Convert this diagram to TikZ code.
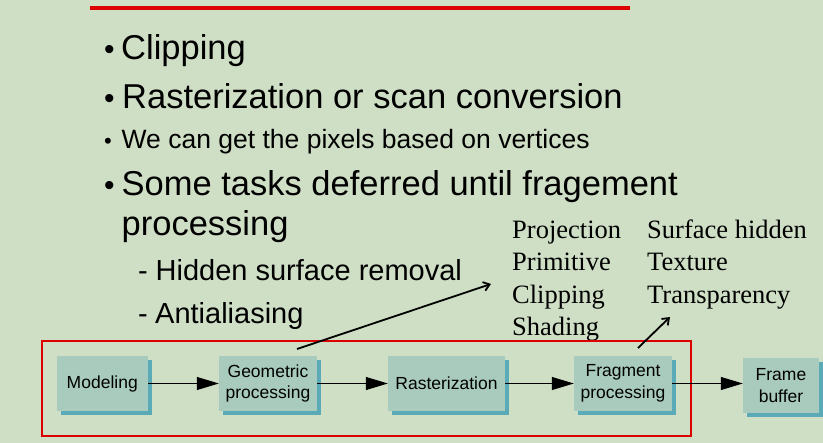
\documentclass[tikz,border=0pt]{standalone}
\usepackage{fontspec}
\setmainfont{Liberation Sans}
\newfontfamily\serifx{Liberation Serif}
\usetikzlibrary{arrows.meta}
\definecolor{bgc}{HTML}{CFDFC5}
\definecolor{boxc}{HTML}{A8CBBD}
\definecolor{shadc}{HTML}{5AAAB8}
\definecolor{redc}{HTML}{DD0000}
\tikzset{
  stagebox/.style={fill=boxc, draw=none, inner sep=0pt, align=center,
    font=\fontsize{17.5}{21.5}\selectfont},
  bigtxt/.style={anchor=base west, inner sep=0pt, font=\fontsize{34.5}{40}\selectfont},
  midtxt/.style={anchor=base west, inner sep=0pt, font=\fontsize{26.5}{30}\selectfont},
  subtxt/.style={anchor=base west, inner sep=0pt, font=\fontsize{29}{34}\selectfont},
  sertxt/.style={anchor=base west, inner sep=0pt, font=\serifx\fontsize{26.5}{30}\selectfont},
  flow/.style={-{Triangle[length=22pt,width=13pt]}, line width=1pt},
  pointer/.style={-{Straight Barb[length=6pt,width=9pt]}, line width=1.8pt},
}
\begin{document}
\begin{tikzpicture}[x=1pt,y=-1pt]
\fill[bgc] (0,0) rectangle (823,443);
\useasboundingbox (0,0) rectangle (823,443);
% top red line
\draw[redc, line width=4pt] (90,8) -- (630,8);
% left texts
\node[bigtxt] (t1) at (104,60) {\makebox[17pt][l]{\fontsize{30}{34}\selectfont•}Clipping};
\node[bigtxt] (t2) at (104,108.5) {\makebox[18pt][l]{\fontsize{30}{34}\selectfont•}Rasterization or scan conversion};
\node[midtxt] (t3) at (104,149) {\makebox[17.5pt][l]{\fontsize{22}{26}\selectfont•}We can get the pixels based on vertices};
\node[bigtxt] (t4) at (104,196) {\makebox[17.5pt][l]{\fontsize{30}{34}\selectfont•}Some tasks deferred until fragement};
\node[bigtxt] (t5) at (121.5,236) {processing};
\node[subtxt] (t6) at (138,281) {\makebox[17.5pt][l]{-}Hidden surface removal};
\node[subtxt] (t7) at (138,323.5) {\makebox[17pt][l]{-}Antialiasing};
% right serif texts
\node[sertxt] (r1) at (512,238.5) {Projection};
\node[sertxt] (r2) at (512,271) {Primitive};
\node[sertxt] (r3) at (512,303.5) {Clipping};
\node[sertxt] (r4) at (512,336) {Shading};
\node[sertxt] (s1) at (647,238.5) {Surface hidden};
\node[sertxt] (s2) at (647,271) {Texture};
\node[sertxt] (s3) at (647,303.5) {Transparency};
% shadows
\foreach \xa/\ya/\xb/\yb in {56.5/356/148/411, 219/356/317/411, 388/356/505/411, 574/356/672/411, 743/358/819/413}
  \fill[shadc] (\xa+4,\ya+4) rectangle (\xb+4,\yb+4);
% boxes
\node[stagebox, minimum width=91.5pt, minimum height=55pt] (mod) at (102.25,383.5) {Modeling};
\node[stagebox, minimum width=98pt, minimum height=55pt] (geo) at (268,383.5) {Geometric\\processing};
\node[stagebox, minimum width=117pt, minimum height=55pt] (ras) at (446.5,383.5) {Rasterization};
\node[stagebox, minimum width=98pt, minimum height=55pt] (frag) at (623,383.5) {Fragment\\processing};
\node[stagebox, minimum width=76pt, minimum height=55pt] (fb) at (781,385.5) {Frame\\buffer};
% red frame
\draw[redc, line width=2pt] (42,341) rectangle (691,436);
% flow arrows
\draw[flow] (mod.east) -- (geo.west);
\draw[flow] (geo.east) -- (ras.west);
\draw[flow] (ras.east) -- (frag.west);
\draw[flow] (frag.east) -- (frag.east -| fb.west);
% pointers
\coordinate (p1) at (297,349);
\coordinate (q1) at (491,284);
\coordinate (p2) at (638,348);
\coordinate (q2) at (670,317);
\draw[pointer] (p1) -- (q1);
\draw[pointer] (p2) -- (q2);
\end{tikzpicture}
\end{document}
